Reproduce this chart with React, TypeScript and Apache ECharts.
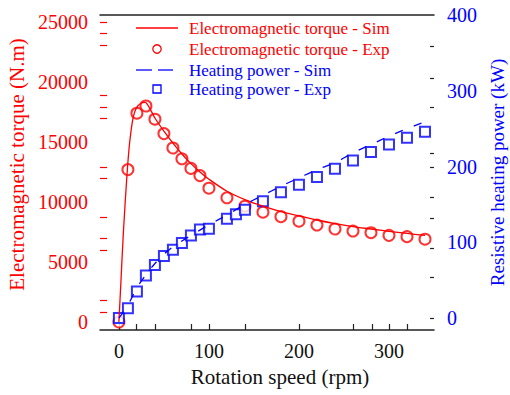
import React, { useEffect, useRef } from "react";
import * as echarts from "echarts";

const RED = "#ff0000";
const BLUE = "#0000ff";
const FONT = "Liberation Serif";

// Electromagnetic torque - simulation [rpm, N.m]
const torqueSim: [number, number][] = [
  [0, 0], [2, 3000], [5, 7500], [9, 12300], [12, 15000], [16, 17100], [20, 17900],
  [25, 18250], [29, 18300], [35, 17700], [40, 17000], [50, 15900], [60, 14900],
  [70, 14000], [80, 13200], [90, 12500], [100, 11900], [120, 10900], [140, 10200],
  [160, 9650], [180, 9200], [200, 8850], [220, 8500], [240, 8200], [260, 7950],
  [280, 7750], [300, 7550], [320, 7380], [340, 7220],
];
// Electromagnetic torque - experiment
const torqueExp: [number, number][] = [
  [0, 0], [10, 12700], [20, 17400], [30, 18000], [40, 16900], [50, 15700], [60, 14500],
  [70, 13600], [80, 12800], [90, 12200], [100, 11150], [120, 10350], [140, 9650],
  [160, 9150], [180, 8780], [200, 8400], [220, 8080], [240, 7750], [260, 7580],
  [280, 7440], [300, 7220], [320, 7110], [340, 6900],
];
// Heating power - simulation [rpm, kW]
const powerSim: [number, number][] = [
  [0, 0], [10, 17], [20, 40], [30, 57], [40, 72], [50, 84], [60, 94], [80, 109],
  [100, 123], [120, 136], [140, 150], [160, 162], [180, 174], [200, 185], [220, 196],
  [240, 205], [260, 218], [280, 229], [300, 240], [320, 250], [340, 259],
];
// Heating power - experiment
const powerExp: [number, number][] = [
  [0, 0], [10, 13], [20, 35], [30, 56], [40, 70], [50, 82], [60, 90], [70, 99],
  [80, 109], [90, 117], [100, 118], [120, 131], [130, 137], [140, 143], [160, 154],
  [180, 166], [200, 176], [220, 186], [240, 197], [260, 208], [280, 219], [300, 229],
  [320, 238], [340, 246],
];

const xLabels = [0, 100, 200, 300];
const xTicks = [0, 19, 40, 80, 100, 140, 200, 260, 281, 300, 320];
const torqueLabels = [0, 5000, 10000, 15000, 20000, 25000];
const torqueTicks = [800, 1800, 6000, 7000, 8700, 12000, 12900, 17000, 17900, 18900, 23100, 24100, 25000];
const powerLabels = [0, 100, 200, 300, 400];
const powerTicks = [0, 54, 92, 132, 159, 199, 217, 278, 317, 359];

const seriesNames = [
  "Electromagnetic torque - Sim",
  "Electromagnetic torque - Exp",
  "Heating power - Sim",
  "Heating power - Exp",
];

function buildLegend() {
  const x0 = 136;
  const x1 = 178;
  const cx = 157;
  const tx = 189;
  const rows = [28, 49, 70, 89];
  const colors = [RED, RED, BLUE, BLUE];
  const els: any[] = [];
  els.push({ type: "line", shape: { x1: x0, y1: rows[0], x2: x1, y2: rows[0] }, style: { stroke: RED, lineWidth: 1.3 } });
  els.push({ type: "circle", shape: { cx, cy: rows[1], r: 4.2 }, style: { fill: "none", stroke: RED, lineWidth: 1.3 } });
  els.push({ type: "line", shape: { x1: x0, y1: rows[2], x2: 152, y2: rows[2] }, style: { stroke: BLUE, lineWidth: 1.3 } });
  els.push({ type: "line", shape: { x1: 158, y1: rows[2], x2: 173, y2: rows[2] }, style: { stroke: BLUE, lineWidth: 1.3 } });
  els.push({ type: "rect", shape: { x: cx - 4, y: rows[3] - 4, width: 8, height: 8 }, style: { fill: "none", stroke: BLUE, lineWidth: 1.3 } });
  seriesNames.forEach((n, i) => {
    els.push({
      type: "text",
      x: tx,
      y: rows[i],
      style: { text: n, fill: colors[i], fontFamily: FONT, fontSize: 17, verticalAlign: "middle", align: "left" },
    });
  });
  return els;
}

export default function App() {
  const ref = useRef<HTMLDivElement>(null);
  useEffect(() => {
    if (!ref.current) return;
    const chart = echarts.init(ref.current, undefined, { renderer: "svg" });
    const xCommon = {
      type: "value" as const,
      min: -21,
      max: 350,
      splitLine: { show: false },
    };
    const plain = (v: number) => String(v);
    chart.setOption({
      animation: false,
      backgroundColor: "#ffffff",
      textStyle: { fontFamily: FONT },
      grid: { left: 100, right: 76, top: 15, bottom: 65, containLabel: false, outerBoundsMode: "none" },
      graphic: buildLegend(),
      xAxis: [
        {
          ...xCommon,
          position: "bottom",
          name: "Rotation speed (rpm)",
          nameLocation: "middle",
          nameGap: 36,
          nameTextStyle: { color: "#111", fontFamily: FONT, fontSize: 21, padding: [0, 0, 0, 26] },
          axisLine: { show: true, onZero: false, lineStyle: { color: "#222", width: 1.5 } },
          axisTick: { show: true, inside: true, length: 6, customValues: xTicks, lineStyle: { color: "#222", width: 1.2 } },
          axisLabel: { customValues: xLabels, formatter: plain, color: "#111", fontFamily: FONT, fontSize: 20, margin: 11 },
        },
        {
          ...xCommon,
          position: "top",
          axisLine: { show: true, onZero: false, lineStyle: { color: "#222", width: 1.5 } },
          axisTick: { show: false },
          axisLabel: { show: false },
        },
      ],
      yAxis: [
        {
          type: "value",
          position: "left",
          min: -667,
          max: 25583,
          splitLine: { show: false },
          name: "Electromagnetic torque (N.m)",
          nameLocation: "middle",
          nameRotate: 90,
          nameGap: 72,
          nameTextStyle: { color: RED, fontFamily: FONT, fontSize: 21, padding: [0, 0, 0, 16] },
          axisLine: { show: false, onZero: false },
          axisTick: { show: true, inside: true, length: 7, customValues: torqueTicks, lineStyle: { color: RED, width: 1.2 } },
          axisLabel: { customValues: torqueLabels, formatter: plain, color: RED, fontFamily: FONT, fontSize: 20, margin: 12 },
        },
        {
          type: "value",
          position: "right",
          min: -15.8,
          max: 400,
          splitLine: { show: false },
          name: "Resistive heating power (kW)",
          nameLocation: "middle",
          nameRotate: 90,
          nameGap: 54,
          nameTextStyle: { color: BLUE, fontFamily: FONT, fontSize: 19 },
          axisLine: { show: false, onZero: false },
          axisTick: { show: true, inside: true, length: 4, customValues: powerTicks, lineStyle: { color: "#222", width: 1.2 } },
          axisLabel: { customValues: powerLabels, formatter: plain, color: BLUE, fontFamily: FONT, fontSize: 20, margin: 13 },
        },
      ],
      series: [
        {
          name: seriesNames[0],
          type: "line",
          xAxisIndex: 0,
          yAxisIndex: 0,
          data: torqueSim,
          symbol: "none",
          smooth: 0.3,
          lineStyle: { color: RED, width: 1.3 },
          itemStyle: { color: RED },
        },
        {
          name: seriesNames[1],
          type: "scatter",
          xAxisIndex: 0,
          yAxisIndex: 0,
          data: torqueExp,
          symbol: "emptyCircle",
          symbolSize: 11,
          itemStyle: { color: RED, borderColor: RED, borderWidth: 1.3 },
        },
        {
          name: seriesNames[2],
          type: "line",
          xAxisIndex: 0,
          yAxisIndex: 1,
          data: powerSim,
          symbol: "none",
          smooth: 0.3,
          lineStyle: { color: BLUE, width: 1.3, type: [8, 12] },
          itemStyle: { color: BLUE },
        },
        {
          name: seriesNames[3],
          type: "scatter",
          xAxisIndex: 0,
          yAxisIndex: 1,
          data: powerExp,
          symbol: "emptyRect",
          symbolSize: 10,
          itemStyle: { color: BLUE, borderColor: BLUE, borderWidth: 1.3 },
        },
      ],
    });
    return () => chart.dispose();
  }, []);
  return <div ref={ref} style={{ width: 510, height: 395, position: "absolute", left: 0, top: 0 }} />;
}
